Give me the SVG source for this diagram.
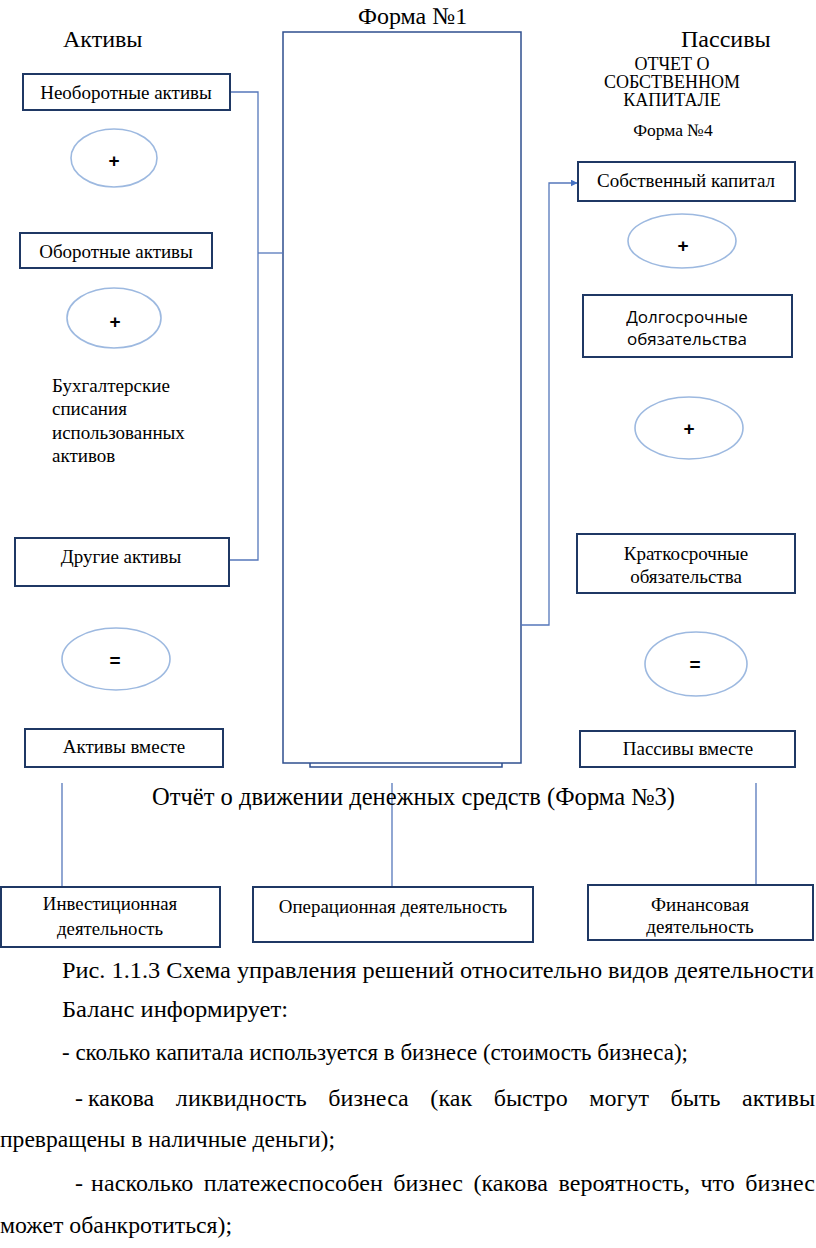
<svg xmlns="http://www.w3.org/2000/svg" width="816" height="1248" viewBox="0 0 816 1248">
<style>
.bg{fill:#fff}
.box{fill:#fff;stroke:#1F3864;stroke-width:2}
.frame{fill:none;stroke:#2F4F8F;stroke-width:1.5}
.ell{fill:#fff;stroke:#9DB9E0;stroke-width:1.6}
.conn{fill:none;stroke:#5577BB;stroke-width:1.3}
.op{font-weight:bold;font-size:19px;fill:#000;text-anchor:middle}
.bt{font-size:19px;text-anchor:middle}
.head{font-size:24px}
</style>
<defs>
<marker id="arr" viewBox="0 0 10 10" refX="9" refY="5" markerWidth="7" markerHeight="7" orient="auto" markerUnits="userSpaceOnUse">
<path d="M0,0 L10,5 L0,10 z" fill="#4472C4"/>
</marker>
</defs>
<rect class="bg" x="0" y="0" width="816" height="1248"/>

<g id="titles" font-family="'Liberation Serif', 'DejaVu Serif', 'Times New Roman', serif" fill="#000">
<text class="head" x="358" y="24">Форма №1</text>
<text class="head" x="63" y="47">Активы</text>
<text class="head" x="681" y="47">Пассивы</text>
<text font-size="18" text-anchor="middle" x="672" y="70">ОТЧЕТ О</text>
<text font-size="18" text-anchor="middle" x="672" y="88">СОБСТВЕННОМ</text>
<text font-size="18" text-anchor="middle" x="672" y="106">КАПИТАЛЕ</text>
<text font-size="17.5" text-anchor="middle" x="673" y="136">Форма №4</text>
</g>

<g id="balance-frame">
<rect class="frame" x="283" y="32" width="238" height="731"/>
<path class="frame" d="M310,763 V767 H502 V763"/>
</g>

<g id="connectors">
<path class="conn" d="M230,92 H258 V560 H229"/>
<path class="conn" d="M258,253 H283"/>
<path class="conn" d="M521,625 H549 V183 H577" marker-end="url(#arr)"/>
<path class="conn" d="M62,783 V887"/>
<path class="conn" d="M392,783 V887"/>
<path class="conn" d="M756,783 V885"/>
</g>

<g id="nodes" font-family="'Liberation Serif', 'DejaVu Serif', 'Times New Roman', serif" fill="#000">
<g id="n-neoborot">
<rect class="box" x="23" y="74" width="207" height="36"/>
<text class="bt" x="126" y="99">Необоротные активы</text>
</g>
<g id="n-plus1" font-family="'Liberation Sans', Arial, sans-serif">
<ellipse class="ell" cx="114" cy="158" rx="43" ry="29"/>
<text class="op" x="114" y="167">+</text>
</g>
<g id="n-oborot">
<rect class="box" x="20" y="233" width="192" height="35"/>
<text class="bt" x="116" y="258">Оборотные активы</text>
</g>
<g id="n-plus2" font-family="'Liberation Sans', Arial, sans-serif">
<ellipse class="ell" cx="114" cy="318" rx="47" ry="30"/>
<text class="op" x="115" y="328">+</text>
</g>
<g id="n-spisania" font-size="19">
<text x="52" y="392">Бухгалтерские</text>
<text x="52" y="415">списания</text>
<text x="52" y="439">использованных</text>
<text x="52" y="462">активов</text>
</g>
<g id="n-drugie">
<rect class="box" x="15" y="538" width="214" height="48"/>
<text class="bt" x="121" y="563">Другие активы</text>
</g>
<g id="n-eq1" font-family="'Liberation Sans', Arial, sans-serif">
<ellipse class="ell" cx="116" cy="659" rx="54" ry="31"/>
<text class="op" x="115" y="667">=</text>
</g>
<g id="n-aktivy-vmeste">
<rect class="box" x="25" y="729" width="198" height="38"/>
<text class="bt" x="124" y="753">Активы вместе</text>
</g>

<g id="n-sobst">
<rect class="box" x="578" y="162" width="217" height="39"/>
<text class="bt" x="686" y="187">Собственный капитал</text>
</g>
<g id="n-plus3" font-family="'Liberation Sans', Arial, sans-serif">
<ellipse class="ell" cx="682" cy="241" rx="54" ry="27"/>
<text class="op" x="683" y="252">+</text>
</g>
<g id="n-dolg" font-family="'Open Sans', 'Noto Sans', sans-serif">
<rect class="box" x="583" y="295" width="209" height="62"/>
<text font-size="17" text-anchor="middle" x="687" y="323">Долгосрочные</text>
<text font-size="17" text-anchor="middle" x="687" y="345">обязательства</text>
</g>
<g id="n-plus4" font-family="'Liberation Sans', Arial, sans-serif">
<ellipse class="ell" cx="689" cy="428" rx="54" ry="31"/>
<text class="op" x="689" y="435">+</text>
</g>
<g id="n-krat" font-size="19" text-anchor="middle">
<rect class="box" x="577" y="534" width="218" height="59"/>
<text x="686" y="560">Краткосрочные</text>
<text x="686" y="583">обязательства</text>
</g>
<g id="n-eq2" font-family="'Liberation Sans', Arial, sans-serif">
<ellipse class="ell" cx="696" cy="664" rx="51" ry="32"/>
<text class="op" x="695" y="671">=</text>
</g>
<g id="n-passivy-vmeste">
<rect class="box" x="580" y="731" width="215" height="36"/>
<text font-size="19" text-anchor="middle" x="688" y="755">Пассивы вместе</text>
</g>

<g id="cashflow-title">
<text font-size="24.5" x="152" y="805" textLength="523" lengthAdjust="spacingAndGlyphs">Отчёт о движении денежных средств (Форма №3)</text>
</g>

<g id="n-invest" font-size="18.8" text-anchor="middle">
<rect class="box" x="1" y="887" width="219" height="60"/>
<text x="110" y="910">Инвестиционная</text>
<text x="110" y="935">деятельность</text>
</g>
<g id="n-oper" font-size="18.9" text-anchor="middle">
<rect class="box" x="253" y="887" width="280" height="55"/>
<text x="393" y="913">Операционная деятельность</text>
</g>
<g id="n-fin" font-size="19" text-anchor="middle">
<rect class="box" x="588" y="885" width="225" height="55"/>
<text x="700" y="911">Финансовая</text>
<text x="700" y="933">деятельность</text>
</g>
</g>

<g id="body-text" font-family="'Liberation Serif', 'DejaVu Serif', 'Times New Roman', serif" font-size="24" fill="#000">
<text x="62" y="978" textLength="752" lengthAdjust="spacingAndGlyphs">Рис. 1.1.3 Схема управления решений относительно видов деятельности</text>
<text x="62" y="1017" textLength="226" lengthAdjust="spacingAndGlyphs">Баланс информирует:</text>
<text x="62" y="1060" textLength="626" lengthAdjust="spacingAndGlyphs">- сколько капитала используется в бизнесе (стоимость бизнеса);</text>
<text x="75" y="1106">-</text>
<text x="88" y="1106" word-spacing="15.5" textLength="727" lengthAdjust="spacing">какова ликвидность бизнеса (как быстро могут быть активы</text>
<text x="0" y="1147" textLength="335" lengthAdjust="spacingAndGlyphs">превращены в наличные деньги);</text>
<text x="75" y="1191">-</text>
<text x="91" y="1191" word-spacing="4.3" textLength="724" lengthAdjust="spacing">насколько платежеспособен бизнес (какова вероятность, что бизнес</text>
<text x="0" y="1233" textLength="232" lengthAdjust="spacingAndGlyphs">может обанкротиться);</text>
</g>
</svg>
